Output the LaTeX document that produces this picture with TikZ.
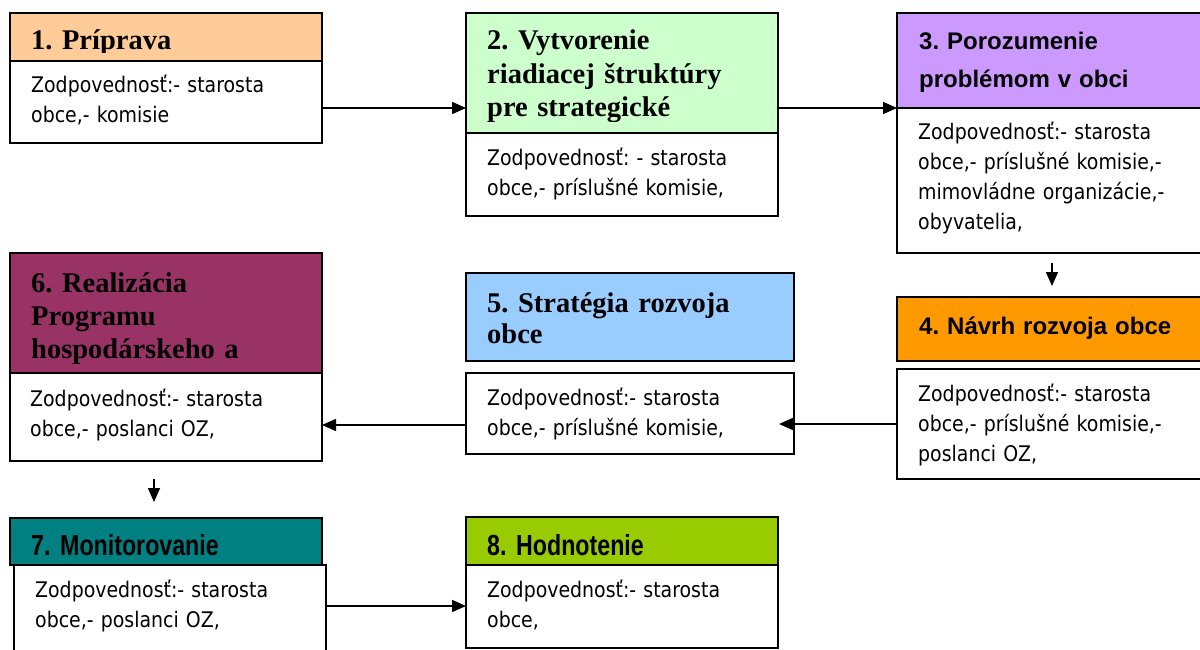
\documentclass[tikz,border=0pt]{standalone}
\usepackage{fontspec}
\setmainfont{Liberation Serif}
\newfontfamily\hsans{Liberation Sans}
\newfontfamily\hnarrow[FakeStretch=0.8]{Liberation Sans}
\newfontfamily\bodyf[FakeStretch=0.88]{DejaVu Sans}
\usetikzlibrary{arrows.meta,calc}
\definecolor{cA}{HTML}{FFCC99}
\definecolor{cB}{HTML}{CCFFCC}
\definecolor{cC}{HTML}{CC99FF}
\definecolor{cD}{HTML}{FF9900}
\definecolor{cE}{HTML}{99CCFF}
\definecolor{cF}{HTML}{993366}
\definecolor{cG}{HTML}{008080}
\definecolor{cH}{HTML}{99CC00}
\frenchspacing
\tikzset{
  box/.style={draw=black, line width=1.6pt, anchor=north west, inner sep=0pt, outer sep=0pt},
  txt/.style={anchor=base west, inner sep=0pt, text width=330pt, align=left},
  hser/.style={txt, font=\frenchspacing\bfseries\fontsize{28.5}{33.5}\selectfont},
  hsan/.style={txt, font=\frenchspacing\hsans\bfseries\fontsize{24}{38}\selectfont},
  hnar/.style={txt, font=\frenchspacing\hnarrow\bfseries\fontsize{29}{30}\selectfont},
  btxt/.style={txt, font=\frenchspacing\bodyf\fontsize{21.5}{30}\selectfont},
  arr/.style={line width=1.6pt, -{Triangle[length=14pt,width=12pt]}},
}
\begin{document}
\begin{tikzpicture}[x=1pt,y=-1pt]
\useasboundingbox (0,0) rectangle (1200,650);
\fill[white] (0,0) rectangle (1200,650);
\clip (0,0) rectangle (1200,650);

% Box 1
\node[box, fill=cA, minimum width=312, minimum height=48] (h1) at (10,13) {};
\node[box, fill=white, minimum width=312, minimum height=82] (b1) at (10,61) {};
\begin{scope}
  \clip (10,13) rectangle (322,53);
  \node[hser] (t1) at (31,50) {1. Príprava};
\end{scope}
\node[btxt] (d1) at (31,93) {Zodpovednosť:- starosta\\obce,- komisie};

% Box 2
\node[box, fill=cB, minimum width=312, minimum height=120] (h2) at (466,13) {};
\node[box, fill=white, minimum width=312, minimum height=83] (b2) at (466,133) {};
\begin{scope}
  \clip (466,13) rectangle (778,122);
  \node[hser] (t2) at (487,50) {2. Vytvorenie\\riadiacej štruktúry\\pre strategické};
\end{scope}
\node[btxt] (d2) at (487,165) {Zodpovednosť: - starosta\\obce,- príslušné komisie,};

% Box 3
\node[box, fill=cC, minimum width=320, minimum height=95] (h3) at (897,13) {};
\node[box, fill=white, minimum width=320, minimum height=145] (b3) at (897,108) {};
\node[hsan] (t3) at (919,50) {3. Porozumenie\\problémom v obci};
\node[btxt] (d3) at (918,140) {Zodpovednosť:- starosta\\obce,- príslušné komisie,-\\mimovládne organizácie,-\\obyvatelia,};

% Box 4
\node[box, fill=cD, minimum width=320, minimum height=64] (h4) at (897,297) {};
\node[box, fill=white, minimum width=320, minimum height=110] (b4) at (897,369) {};
\node[hsan] (t4) at (919,334) {4. Návrh rozvoja obce};
\node[btxt] (d4) at (918,401) {Zodpovednosť:- starosta\\obce,- príslušné komisie,-\\poslanci OZ,};

% Box 5
\node[box, fill=cE, minimum width=328, minimum height=88] (h5) at (466,273) {};
\node[box, fill=white, minimum width=328, minimum height=81] (b5) at (466,373) {};
\node[hser, font=\frenchspacing\bfseries\fontsize{28.5}{31}\selectfont] (t5) at (487,312) {5. Stratégia rozvoja\\obce};
\node[btxt] (d5) at (487,405) {Zodpovednosť:- starosta\\obce,- príslušné komisie,};

% Box 6
\node[box, fill=cF, minimum width=312, minimum height=120] (h6) at (10,253) {};
\node[box, fill=white, minimum width=312, minimum height=88] (b6) at (10,373) {};
\begin{scope}
  \clip (10,253) rectangle (322,363);
  \node[hser, font=\frenchspacing\bfseries\fontsize{28.5}{33}\selectfont] (t6) at (31,292) {6. Realizácia\\Programu\\hospodárskeho a};
\end{scope}
\node[btxt] (d6) at (30,406) {Zodpovednosť:- starosta\\obce,- poslanci OZ,};

% Box 7
\node[box, fill=cG, minimum width=312, minimum height=47] (h7) at (10,518) {};
\node[box, fill=white, minimum width=312, minimum height=100] (b7) at (14,565) {};
\node[hnar] (t7) at (31,555) {7. Monitorovanie};
\node[btxt] (d7) at (35,597) {Zodpovednosť:- starosta\\obce,- poslanci OZ,};

% Box 8
\node[box, fill=cH, minimum width=312, minimum height=48] (h8) at (466,517) {};
\node[box, fill=white, minimum width=312, minimum height=83] (b8) at (466,565) {};
\node[hnar] (t8) at (487,555) {8. Hodnotenie};
\node[btxt] (d8) at (487,597) {Zodpovednosť:- starosta\\obce,};

% Connectors
\draw[arr] ([yshift=-6pt]b1.east) -- ([yshift=-6pt]b1.east -| h2.west);
\draw[arr] (h3.south west -| h2.east) -- (h3.south west);
\draw[arr] ($(b3.south)+(-5,10)$) -- ($(h4.north)+(-5,-11)$);
\draw[arr] (b4.west) -- ($(b4.west -| b5.east)+(-15,0)$);
\draw[arr] ([yshift=-11.5pt]b5.west) -- ([yshift=-11.5pt]b5.west -| b6.east);
\draw[arr] ($(b6.south)+(-12,18)$) -- ($(h7.north)+(-12,-16)$);
\draw[arr] ([yshift=9pt]b7.east) -- ([yshift=9pt]b7.east -| b8.west);
\end{tikzpicture}
\end{document}
